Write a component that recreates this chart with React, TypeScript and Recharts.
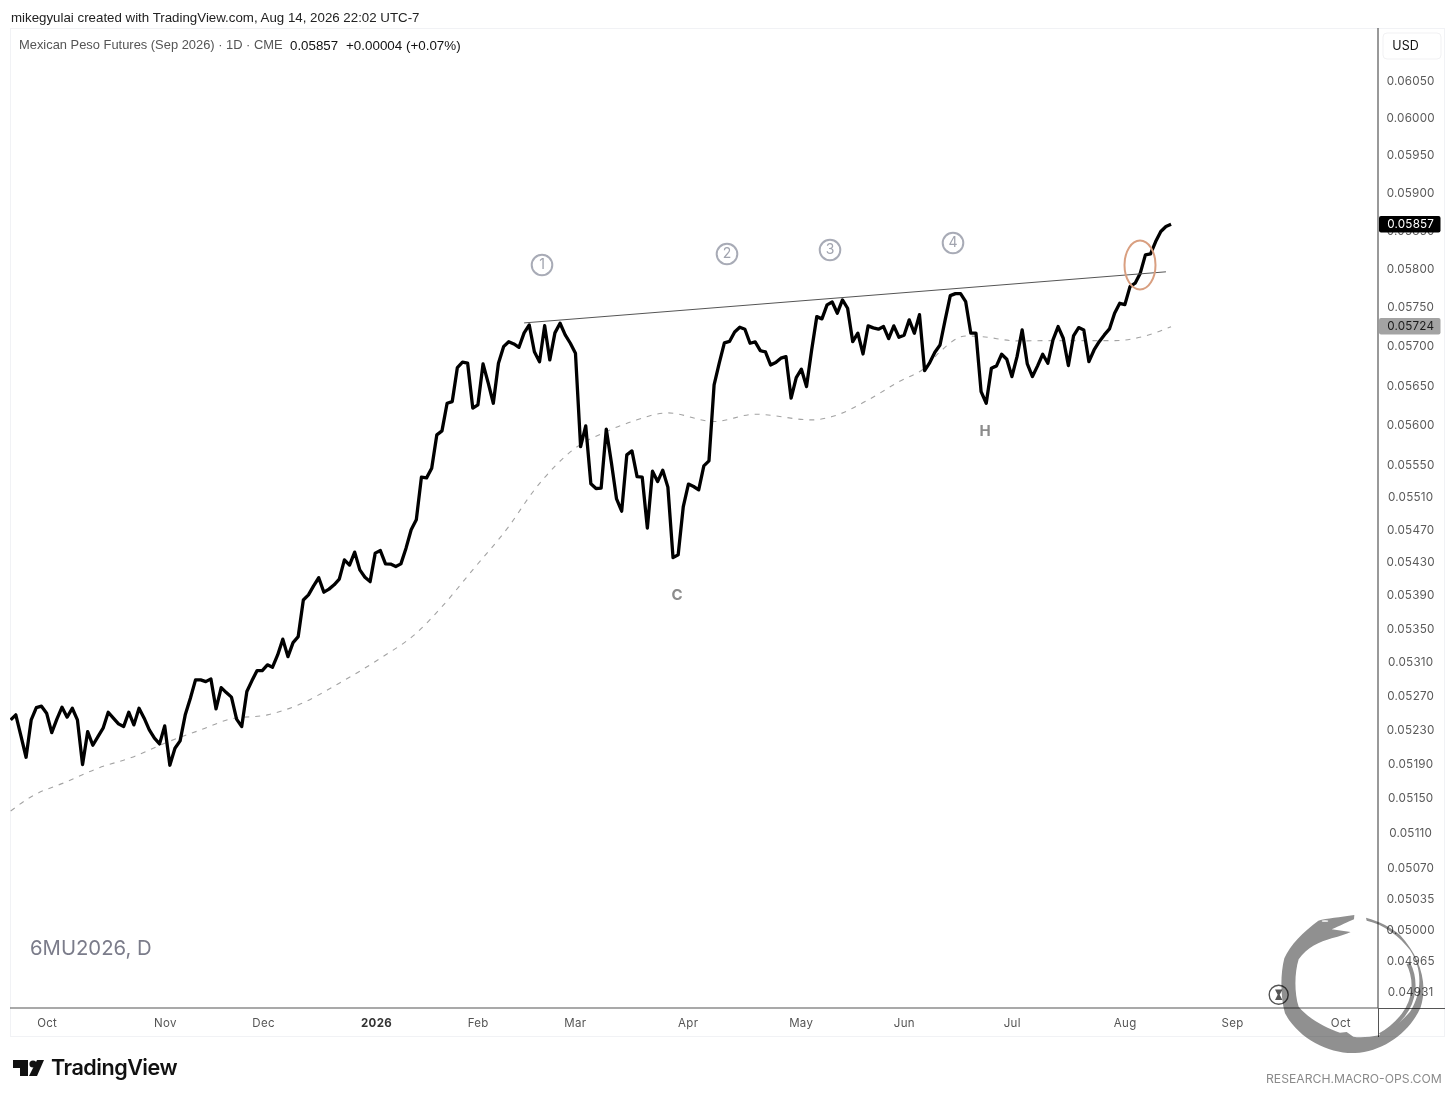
import React from "react";
import { LineChart, Line, XAxis, YAxis } from "recharts";

const closes = [
  0.052403, 0.052462, 0.052215, 0.051965, 0.052403, 0.052547, 0.052564, 0.052482, 0.052253, 0.052411,
  0.052552, 0.052435, 0.052540, 0.052403, 0.051879, 0.052265, 0.052105, 0.052206, 0.052305, 0.052493,
  0.052423, 0.052356, 0.052324, 0.052493, 0.052344, 0.052540, 0.052423, 0.052285, 0.052188, 0.052121,
  0.052332, 0.051872, 0.052070, 0.052156, 0.052462, 0.052658, 0.052876, 0.052876, 0.052855, 0.052887,
  0.052532, 0.052784, 0.052725, 0.052671, 0.052411, 0.052324, 0.052737, 0.052867, 0.052986, 0.052986,
  0.053054, 0.053026, 0.053173, 0.053361, 0.053152, 0.053320, 0.053392, 0.053833, 0.053894, 0.054004,
  0.054102, 0.053927, 0.053964, 0.054016, 0.054085, 0.054320, 0.054256, 0.054414, 0.054198, 0.054109,
  0.054055, 0.054402, 0.054433, 0.054271, 0.054268, 0.054239, 0.054271, 0.054463, 0.054688, 0.054810,
  0.055338, 0.055329, 0.055450, 0.055866, 0.055916, 0.056264, 0.056285, 0.056716, 0.056785, 0.056772,
  0.056202, 0.056243, 0.056763, 0.056522, 0.056264, 0.056772, 0.056983, 0.057047, 0.057018, 0.056975,
  0.057160, 0.057262, 0.056919, 0.056789, 0.057253, 0.056814, 0.057160, 0.057284, 0.057134, 0.057027,
  0.056899, 0.055719, 0.055979, 0.055255, 0.055197, 0.055202, 0.055937, 0.055516, 0.055068, 0.054917,
  0.055615, 0.055665, 0.055345, 0.055338, 0.054708, 0.055412, 0.055283, 0.055425, 0.055214, 0.054348,
  0.054381, 0.054974, 0.055252, 0.055222, 0.055181, 0.055478, 0.055540, 0.056496, 0.056772, 0.057031,
  0.057050, 0.057172, 0.057233, 0.057207, 0.057027, 0.057044, 0.056932, 0.056916, 0.056750, 0.056780,
  0.056836, 0.056856, 0.056328, 0.056589, 0.056696, 0.056475, 0.056941, 0.057369, 0.057340, 0.057520,
  0.057558, 0.057413, 0.057584, 0.057477, 0.057047, 0.057156, 0.056890, 0.057250, 0.057224, 0.057207,
  0.057241, 0.057086, 0.057250, 0.057104, 0.057130, 0.057327, 0.057156, 0.057395, 0.056678, 0.056780,
  0.056912, 0.057005, 0.057327, 0.057640, 0.057666, 0.057666, 0.057562, 0.057156, 0.057156, 0.056411,
  0.056264, 0.056709, 0.056738, 0.056886, 0.056823, 0.056602, 0.056856, 0.057198, 0.056763, 0.056602,
  0.056738, 0.056886, 0.056772, 0.057070, 0.057241, 0.057091, 0.056742, 0.057121, 0.057228, 0.057198,
  0.056792, 0.056941, 0.057047, 0.057134, 0.057211, 0.057413, 0.057541, 0.057524, 0.057757, 0.057801,
  0.057932, 0.058170, 0.058183, 0.058344, 0.058476, 0.058541, 0.058570,
];

const maSessions = [0, 4, 11, 17, 24, 30, 37, 43, 50, 56, 64, 72, 79, 84, 90, 97, 102, 110, 116, 121, 128, 137, 145, 156, 160, 167, 173, 178, 181, 186, 189, 196, 202, 210, 215, 221, 226];
const maValues = [
  0.051342, 0.051507, 0.051682, 0.051837, 0.051972, 0.052129, 0.052285, 0.052415, 0.052462, 0.052579,
  0.052836, 0.053133, 0.053433, 0.053752, 0.054198, 0.054728, 0.055180, 0.055702, 0.055907, 0.056033,
  0.056142, 0.056033, 0.056126, 0.056054, 0.056096, 0.056306, 0.056538, 0.056712, 0.056919, 0.057120,
  0.057112, 0.057057, 0.057061, 0.057061, 0.057061, 0.057121, 0.057240,
];

const trendSessions = [100, 225];
const trendValues = [0.057288, 0.057949];

const priceTicks = [0.0605, 0.06, 0.0595, 0.059, 0.0585, 0.058, 0.0575, 0.057, 0.0565, 0.056, 0.0555, 0.0551, 0.0547, 0.0543, 0.0539, 0.0535, 0.0531, 0.0527, 0.0523, 0.0519, 0.0515, 0.0511, 0.0507, 0.05035, 0.05, 0.04965, 0.04931];
const monthSessions = [7.05, 30.06, 49.2, 71.2, 91, 109.9, 131.9, 153.9, 174, 195, 217, 237.9, 259];
const monthLabels = ["Oct", "Nov", "Dec", "2026", "Feb", "Mar", "Apr", "May", "Jun", "Jul", "Aug", "Sep", "Oct"];

const pairs = (xs: number[], ys: number[]) => xs.map((session, i) => ({ session, price: ys[i] }));
const closeData = closes.map((price, session) => ({ session, price }));
const maData = pairs(maSessions, maValues);
const trendData = pairs(trendSessions, trendValues);

const FONT = "Inter, 'Liberation Sans', Arial, sans-serif";
const SANS = "'Liberation Sans', Arial, sans-serif";

const MonthTick = (props: any) => {
  const { x, y, payload, index } = props;
  const label = monthLabels[index] ?? monthLabels[monthSessions.indexOf(payload.value)];
  const bold = label === "2026";
  return (
    <text x={x + 0.3} y={y + 2} textAnchor="middle" dominantBaseline="middle" fontFamily={FONT} fontSize={11.5} fontWeight={bold ? 700 : 400} fill={bold ? "#333" : "#555"} letterSpacing={0.3}>
      {label}
    </text>
  );
};

const PriceTick = (props: any) => {
  const { y, payload } = props;
  return (
    <text x={1410.7} y={y + 1.8} textAnchor="middle" dominantBaseline="middle" fontFamily={FONT} fontSize={11.7} fill="#5a5a5a" letterSpacing={0.2}>
      {payload.value.toFixed(5)}
    </text>
  );
};

const txt = (left: number, top: number, extra: React.CSSProperties, s: string) => (
  <div style={{ position: "absolute", left, top, whiteSpace: "nowrap", lineHeight: 1, ...extra }}>{s}</div>
);

const circled = [
  { n: "1", x: 542, y: 265 },
  { n: "2", x: 727, y: 254 },
  { n: "3", x: 830, y: 250 },
  { n: "4", x: 953, y: 243 },
];

export default function App() {
  return (
    <div style={{ position: "absolute", left: 0, top: 0, width: 1456, height: 1100, background: "#fff", overflow: "hidden" }}>
      <div style={{ position: "absolute", left: 10, top: 28, width: 1435, height: 1009, border: "1px solid #f1f2f5", boxSizing: "border-box" }} />
      <div style={{ position: "absolute", left: 0, top: 0 }}>
        <LineChart width={1456} height={1100} margin={{ top: 28, right: 10, bottom: 64, left: 10 }}>
          <XAxis
            type="number"
            dataKey="session"
            domain={[-0.13, 266.3]}
            ticks={monthSessions}
            allowDataOverflow
            height={28}
            tickLine={false}
            axisLine={{ stroke: "#555", strokeWidth: 1.2 }}
            tick={<MonthTick />}
            tickMargin={8}
            interval={0}
          />
          <YAxis
            orientation="right"
            scale="log"
            domain={[0.04912, 0.06121]}
            ticks={priceTicks}
            allowDataOverflow
            width={68}
            tickLine={false}
            axisLine={{ stroke: "#555", strokeWidth: 1.2 }}
            tick={<PriceTick />}
            interval={0}
          />
          <Line data={maData} dataKey="price" type="monotone" stroke="#a3a3a3" strokeWidth={1.1} strokeDasharray="5 6" dot={false} isAnimationActive={false} />
          <Line data={closeData} dataKey="price" type="linear" stroke="#000" strokeWidth={3.3} strokeLinejoin="round" dot={false} isAnimationActive={false} />
          <Line data={trendData} dataKey="price" type="linear" stroke="#555" strokeWidth={1} dot={false} isAnimationActive={false} />
        </LineChart>
      </div>

      <div style={{ position: "absolute", left: 1378, top: 1008, width: 1, height: 29, background: "#555" }} />
      <div style={{ position: "absolute", left: 1378, top: 1008, width: 67, height: 1, background: "#555" }} />

      <svg width={1456} height={1100} style={{ position: "absolute", left: 0, top: 0, pointerEvents: "none" }}>
        {circled.map((c) => (
          <g key={c.n}>
            <circle cx={c.x} cy={c.y} r={10.3} fill="none" stroke="#a8abb6" strokeWidth={2} />
            <text x={c.x} y={c.y + 0.5} textAnchor="middle" dominantBaseline="middle" fontFamily={FONT} fontSize={14} fill="#a0a3ae">{c.n}</text>
          </g>
        ))}
        <text x={677} y={596} textAnchor="middle" dominantBaseline="middle" fontFamily={FONT} fontSize={15} fontWeight={700} fill="#8c8c8c">C</text>
        <text x={985} y={432} textAnchor="middle" dominantBaseline="middle" fontFamily={FONT} fontSize={15} fontWeight={700} fill="#8c8c8c">H</text>
        <ellipse cx={1140} cy={265} rx={15.5} ry={24.5} fill="none" stroke="#d99f80" strokeWidth={2} />

        <rect x={1379} y={216} width={61.5} height={16.5} rx={2} fill="#000" />
        <text x={1410.7} y={225} textAnchor="middle" dominantBaseline="middle" fontFamily={FONT} fontSize={11.7} fill="#fff" letterSpacing={0.2}>0.05857</text>
        <rect x={1379} y={318} width={61.5} height={16.5} rx={2} fill="#a3a3a3" />
        <text x={1410.7} y={327} textAnchor="middle" dominantBaseline="middle" fontFamily={FONT} fontSize={11.7} fill="#1a1a1a" letterSpacing={0.2}>0.05724</text>

        <rect x={1383} y={33} width={58} height={26} rx={4} fill="#fff" stroke="#f1f1f3" />
        <text x={1405.5} y={46.3} textAnchor="middle" dominantBaseline="middle" fontFamily={FONT} fontSize={12.5} fill="#111">USD</text>

        <circle cx={1278.7} cy={994.7} r={9.5} fill="#fff" stroke="#555" strokeWidth={1.4} />
        <path d="M1275 989.5h7.4l-2.7 5.2 2.7 5.2H1275l2.7-5.2z" fill="#555" />

        <g transform="translate(1240 900) scale(0.33333)" style={{ mixBlendMode: "multiply" }}>
          <path
            d="M343 45 C300 52 260 55 235 62 C190 95 150 135 133 175 C120 225 122 295 135 340 C175 415 265 462 345 459 C430 456 510 395 542 322 C565 250 540 170 480 105 C450 80 420 65 378 53 L380 62 C430 72 480 110 510 150 C550 210 545 280 510 335 C490 360 450 392 418 406 C390 411 360 414 340 410 L320 396 L300 398 C255 382 210 360 176 320 C163 280 163 220 176 178 C200 143 240 125 275 115 C300 108 320 102 332 96 L275 88 C300 78 325 65 342 58 Z"
            fill="#909090"
          />
          <path d="M505 190 C530 240 525 300 490 345 C470 370 445 392 420 405" fill="none" stroke="#909090" strokeWidth={12} />
          <ellipse cx={255} cy={63} rx={10} ry={2.5} fill="#fff" />
        </g>

        <path d="M13 1060H28V1076H20V1068H13Z" fill="#111" />
        <circle cx={33} cy={1064} r={3.6} fill="#111" />
        <path d="M37 1060H44L37 1076H29Z" fill="#111" />
      </svg>

      {txt(11, 10.5, { fontFamily: SANS, fontSize: 13.3, color: "#222" }, "mikegyulai created with TradingView.com, Aug 14, 2026 22:02 UTC-7")}
      {txt(19, 38.5, { fontFamily: SANS, fontSize: 12.9, color: "#555" }, "Mexican Peso Futures (Sep 2026) · 1D · CME")}
      {txt(290, 38.5, { fontFamily: SANS, fontSize: 13.3, color: "#111" }, "0.05857")}
      {txt(346, 38.5, { fontFamily: SANS, fontSize: 13.4, color: "#111" }, "+0.00004 (+0.07%)")}
      {txt(30, 938, { fontFamily: FONT, fontSize: 20.3, color: "#7b7c8a" }, "6MU2026, D")}
      {txt(51, 1057, { fontFamily: FONT, fontSize: 21.6, fontWeight: 600, color: "#111", letterSpacing: -0.5 }, "TradingView")}
      {txt(1266, 1073, { fontFamily: FONT, fontSize: 12.2, color: "#8a8a8a" }, "RESEARCH.MACRO-OPS.COM")}
    </div>
  );
}
